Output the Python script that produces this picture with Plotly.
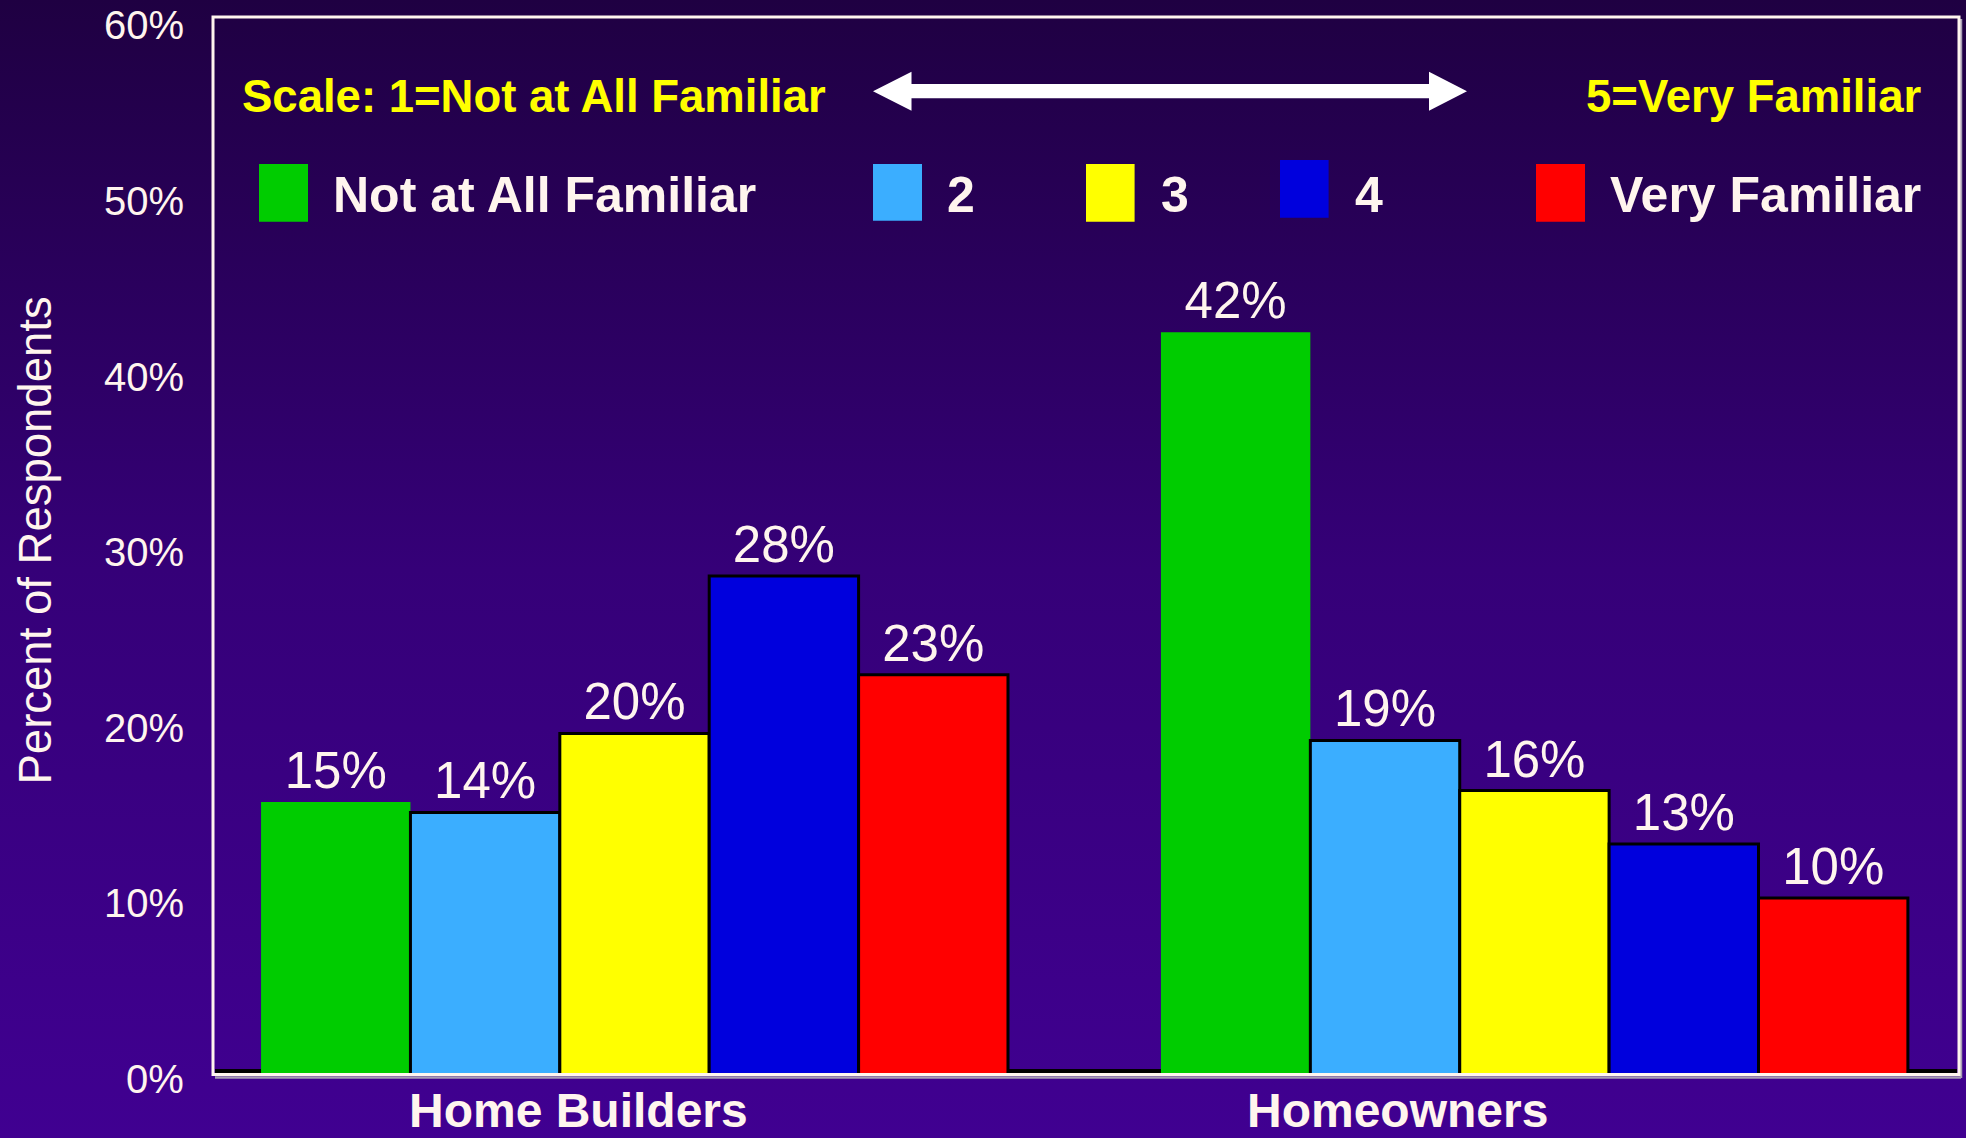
import base64

import plotly.graph_objects as go

# data
groups = ["Home Builders", "Homeowners"]
group_pos = [0, 1]
series_names = ["Not at All Familiar", "2", "3", "4", "Very Familiar"]
not_at_all = [15.55, 42.3]
level_2 = [14.95, 19.05]
level_3 = [19.45, 16.2]
level_4 = [28.42, 13.15]
very_familiar = [22.8, 10.08]
label_not_at_all = ["15%", "42%"]
label_2 = ["14%", "19%"]
label_3 = ["20%", "16%"]
label_4 = ["28%", "13%"]
label_very = ["23%", "10%"]
y_ticks = [0, 10, 20, 30, 40, 50, 60]
y_tick_labels = ["0%", "10%", "20%", "30%", "40%", "50%", "60%"]
scale_left = "Scale: 1=Not at All Familiar"
scale_right = "5=Very Familiar"
y_title = "Percent of Respondents"

colors = ["#00CC00", "#3BAEFF", "#FFFF00", "#0000DD", "#FF0000"]
CREAM = "#FFF5EE"
FONT = "Liberation Sans, Arial, sans-serif"

# plot area in pixels
L, R, T, B = 213, 1959, 17, 1075
W, H = R - L, B - T


def px(x):
    return (x - L) / W


def py(y):
    return (B - y) / H


fig = go.Figure()
series = [not_at_all, level_2, level_3, level_4, very_familiar]
labels = [label_not_at_all, label_2, label_3, label_4, label_very]
for name, vals, txt, col in zip(series_names, series, labels, colors):
    green = col == "#00CC00"
    fig.add_trace(
        go.Bar(
            x=group_pos,
            y=vals,
            name=name,
            text=txt,
            textposition="outside",
            textfont={"size": 51, "color": CREAM, "family": FONT},
            marker={"color": col, "line": {"color": col if green else "black", "width": 0 if green else 3}},
            cliponaxis=False,
            showlegend=False,
            hoverinfo="skip",
        )
    )

# gradient background
svg = (
    '<svg xmlns="http://www.w3.org/2000/svg" width="100" height="100" preserveAspectRatio="none">'
    '<defs><linearGradient id="g" x1="0" y1="0" x2="0" y2="1">'
    '<stop offset="0" stop-color="rgb(31,0,66)"/>'
    '<stop offset="0.5" stop-color="rgb(53,0,120)"/>'
    '<stop offset="1" stop-color="rgb(64,0,145)"/>'
    '</linearGradient></defs><rect width="100" height="100" fill="url(#g)"/></svg>'
)
bg_src = "data:image/svg+xml;base64," + base64.b64encode(svg.encode()).decode()

shapes = [
    # black baseline under bars
    dict(type="line", xref="paper", yref="paper", x0=px(215), x1=px(1957), y0=py(1071), y1=py(1071),
         line={"color": "black", "width": 4}, layer="below"),
    # grey shadow of the frame
    dict(type="line", xref="paper", yref="paper", x0=px(1961), x1=px(1961), y0=py(19), y1=py(1078),
         line={"color": "#A89EB4", "width": 2.5}),
    dict(type="line", xref="paper", yref="paper", x0=px(215), x1=px(1961), y0=py(1077.5), y1=py(1077.5),
         line={"color": "#A89EB4", "width": 2.5}),
    # frame
    dict(type="rect", xref="paper", yref="paper", x0=0, x1=1, y0=py(1074.5), y1=1,
         line={"color": CREAM, "width": 3}),
]

# double arrow
pts = [(873, 91.2), (911.5, 71.7), (911.5, 84), (1429, 84), (1429, 71.7), (1467, 91.2),
       (1429, 110.7), (1429, 98.3), (911.5, 98.3), (911.5, 110.7)]
path = "M " + " L ".join(f"{px(a):.5f},{py(b):.5f}" for a, b in pts) + " Z"
shapes.append(dict(type="path", xref="paper", yref="paper", path=path,
                   fillcolor="white", line={"width": 0}))

# legend swatches
swatches = [(259, 308, 164, 221.7), (873, 922, 164, 220.7), (1086, 1134.6, 164, 221.7),
            (1280, 1328.6, 160, 217.7), (1536, 1585, 164, 221.7)]
for (x0, x1, y0, y1), col in zip(swatches, colors):
    shapes.append(dict(type="rect", xref="paper", yref="paper", x0=px(x0), x1=px(x1),
                       y0=py(y1), y1=py(y0), fillcolor=col, line={"width": 0}))

annotations = []
legend_x = [331, 945, 1159, 1353, 1608]
for name, lx in zip(series_names, legend_x):
    annotations.append(dict(xref="paper", yref="paper", x=px(lx), y=py(195), text=f"<b>{name}</b>",
                            showarrow=False, xanchor="left", yanchor="middle",
                            font={"size": 50, "color": CREAM, "family": FONT}))

annotations += [
    dict(xref="paper", yref="paper", x=px(240), y=py(96.5), text=f"<b>{scale_left}</b>",
         showarrow=False, xanchor="left", yanchor="middle",
         font={"size": 45.5, "color": "#FFFF00", "family": FONT}),
    dict(xref="paper", yref="paper", x=px(1923), y=py(96.5), text=f"<b>{scale_right}</b>",
         showarrow=False, xanchor="right", yanchor="middle",
         font={"size": 45.5, "color": "#FFFF00", "family": FONT}),
    dict(xref="paper", yref="paper", x=px(35), y=py(540.5), text=y_title, textangle=-90,
         showarrow=False, xanchor="center", yanchor="middle",
         font={"size": 45.5, "color": CREAM, "family": FONT}),
]

# y tick labels sit slightly below their gridline positions in the original
for v, t in zip(y_ticks, y_tick_labels):
    annotations.append(dict(xref="paper", yref="y", x=px(186), y=v, yshift=-4, text=t,
                            showarrow=False, xanchor="right", yanchor="middle",
                            font={"size": 40, "color": CREAM, "family": FONT}))

# category labels sit a bit left of the group centres in the original
cat_x = [-0.0628, 0.8473]
for g, cx in zip(groups, cat_x):
    annotations.append(dict(xref="x", yref="paper", x=cx, y=py(1110), text=f"<b>{g}</b>",
                            showarrow=False, xanchor="center", yanchor="middle",
                            font={"size": 48, "color": CREAM, "family": FONT}))

fig.update_layout(
    width=1966,
    height=1138,
    margin={"l": L, "r": 1966 - R, "t": T, "b": 1138 - B, "pad": 0},
    paper_bgcolor="#2E006C",
    plot_bgcolor="rgba(0,0,0,0)",
    barmode="group",
    bargap=0.17,
    bargroupgap=0,
    font={"family": FONT, "color": CREAM},
    images=[dict(source=bg_src, xref="paper", yref="paper", x=px(0), y=py(0),
                 sizex=1966 / W, sizey=1138 / H, xanchor="left", yanchor="top",
                 sizing="stretch", layer="below")],
    shapes=shapes,
    annotations=annotations,
    xaxis={"range": [-0.4684, 1.4718], "showticklabels": False, "showgrid": False,
           "zeroline": False, "showline": False, "automargin": False},
    yaxis={"range": [0, 60.25], "showticklabels": False, "showgrid": False,
           "zeroline": False, "showline": False, "ticks": "", "automargin": False},
)

fig.write_html("out.html", config={"displayModeBar": False},
               post_script="document.body.style.margin='0';")
